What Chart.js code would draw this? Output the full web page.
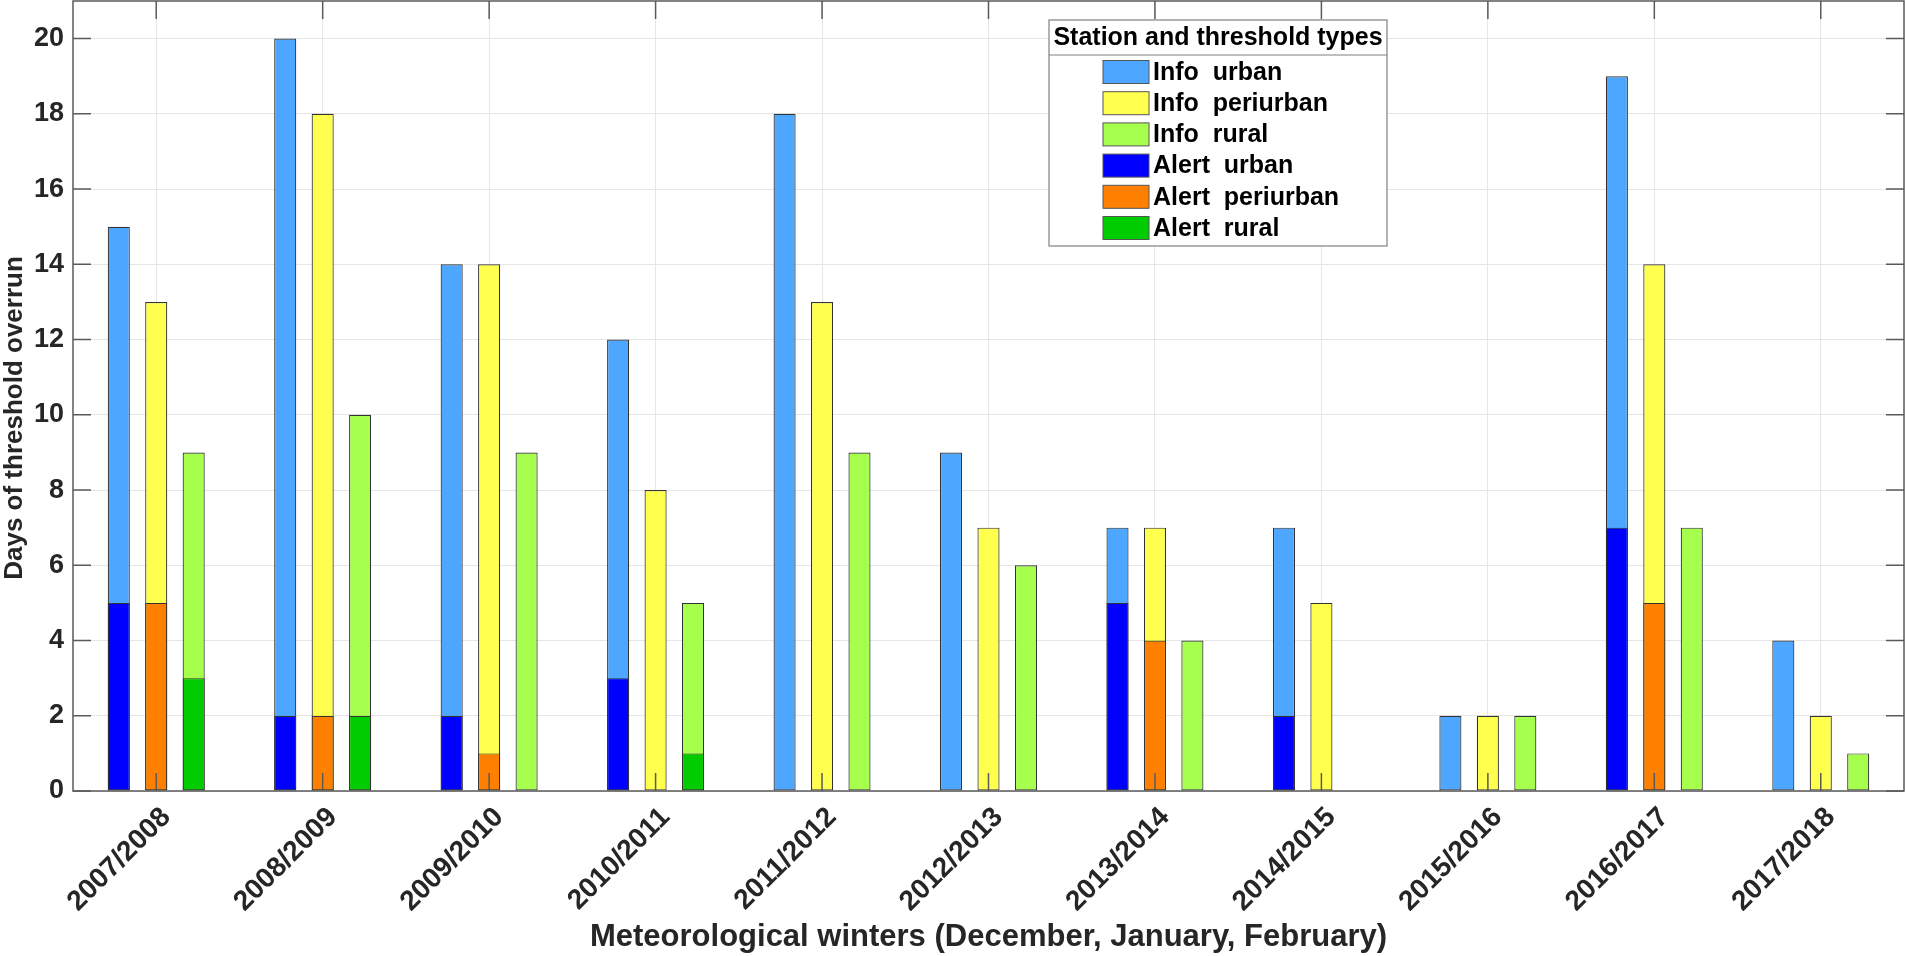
<!DOCTYPE html>
<html lang="en">
<head>
    <meta charset="UTF-8">
    <title>Days of threshold overrun</title>
    <script src="https://cdn.jsdelivr.net/npm/chart.js"></script>
    <style>
        html, body { margin: 0; padding: 0; background: #fff; }
    </style>
</head>
<body>
    <canvas id="grafico" width="1905" height="956"></canvas>

<script>
    // winters (Dec, Jan, Feb)
    var invernos = ["2007/2008", "2008/2009", "2009/2010", "2010/2011", "2011/2012", "2012/2013",
        "2013/2014", "2014/2015", "2015/2016", "2016/2017", "2017/2018"];

    // days with info threshold overrun (total bar height)
    var infoUrbano = [15, 20, 14, 12, 18, 9, 7, 7, 2, 19, 4];
    var infoPeriurbano = [13, 18, 14, 8, 13, 7, 7, 5, 2, 14, 2];
    var infoRural = [9, 10, 9, 5, 9, 6, 4, 0, 2, 7, 1];

    // days with alert threshold overrun (drawn over the info bar)
    var alertaUrbano = [5, 2, 2, 3, 0, 0, 5, 2, 0, 7, 0];
    var alertaPeriurbano = [5, 2, 1, 0, 0, 0, 4, 0, 0, 5, 0];
    var alertaRural = [3, 2, 0, 1, 0, 0, 0, 0, 0, 0, 0];

    var ticksY = [0, 2, 4, 6, 8, 10, 12, 14, 16, 18, 20];

    var tituloY = 'Days of threshold overrun';

    Chart.defaults.font.family = "'Liberation Sans', Arial, sans-serif";
    Chart.defaults.color = '#262626';

    function barra(rotulo, valores, cor, grupo, ordem) {
        return {
            label: rotulo,
            data: valores,
            backgroundColor: cor,
            borderColor: '#333333',
            borderWidth: 1.2,
            borderSkipped: false,
            stack: grupo,
            order: ordem,
            categoryPercentage: 0.675,
            barPercentage: 0.59
        };
    }

    // legend box + axes frame with inner ticks (matlab style)
    const moldura = {
        id: 'moldura',
        afterDatasetsDraw(chart) {
            const ctx = chart.ctx;
            const a = chart.chartArea;
            const x = chart.scales.x;
            const y = chart.scales.y;
            ctx.save();

            ctx.strokeStyle = '#5a5a5a';
            ctx.lineWidth = 1.5;
            ctx.strokeRect(a.left, a.top, a.right - a.left, a.bottom - a.top);
            ctx.beginPath();
            for (var i = 0; i < x.ticks.length; i++) {
                var px = x.getPixelForTick(i);
                ctx.moveTo(px, a.bottom); ctx.lineTo(px, a.bottom - 18);
                ctx.moveTo(px, a.top); ctx.lineTo(px, a.top + 18);
            }
            for (var j = 0; j < y.ticks.length; j++) {
                var py = y.getPixelForTick(j);
                ctx.moveTo(a.left, py); ctx.lineTo(a.left + 18, py);
                ctx.moveTo(a.right, py); ctx.lineTo(a.right - 18, py);
            }
            ctx.stroke();

            // y label, sits a bit below the axis centre like in matlab
            ctx.save();
            ctx.translate(15, (a.top + a.bottom) / 2 + 22);
            ctx.rotate(-Math.PI / 2);
            ctx.fillStyle = '#262626';
            ctx.font = "bold 26px 'Liberation Sans', Arial, sans-serif";
            ctx.textAlign = 'center';
            ctx.textBaseline = 'middle';
            ctx.fillText(tituloY, 0, 0);
            ctx.restore();

            // legend
            var lx = 1049, ly = 20, lw = 338, lh = 226;
            ctx.fillStyle = '#ffffff';
            ctx.fillRect(lx, ly, lw, lh);
            ctx.strokeStyle = '#808080';
            ctx.lineWidth = 1.2;
            ctx.strokeRect(lx, ly, lw, lh);
            ctx.beginPath();
            ctx.moveTo(lx, ly + 35); ctx.lineTo(lx + lw, ly + 35);
            ctx.stroke();

            ctx.fillStyle = '#000000';
            ctx.font = "bold 25px 'Liberation Sans', Arial, sans-serif";
            ctx.textAlign = 'center';
            ctx.textBaseline = 'middle';
            ctx.fillText('Station and threshold types', lx + lw / 2, ly + 18);

            ctx.textAlign = 'left';
            chart.data.datasets.forEach(function (ds, k) {
                var cy = ly + 52 + k * 31.2;
                ctx.fillStyle = ds.backgroundColor;
                ctx.fillRect(lx + 54, cy - 11.5, 46, 23);
                ctx.strokeStyle = '#555555';
                ctx.lineWidth = 1;
                ctx.strokeRect(lx + 54, cy - 11.5, 46, 23);
                ctx.fillStyle = '#000000';
                ctx.fillText(ds.label, lx + 104, cy + 1);
            });

            ctx.restore();
        }
    };

    new Chart(document.getElementById('grafico'), {
        type: 'bar',
        data: {
            labels: invernos,
            datasets: [
                barra('Info  urban', infoUrbano, '#4da6ff', 'urbano', 1),
                barra('Info  periurban', infoPeriurbano, '#ffff4d', 'periurbano', 1),
                barra('Info  rural', infoRural, '#a6ff4d', 'rural', 1),
                barra('Alert  urban', alertaUrbano, '#0000ff', 'urbano', 0),
                barra('Alert  periurban', alertaPeriurbano, '#ff8000', 'periurbano', 0),
                barra('Alert  rural', alertaRural, '#00cc00', 'rural', 0)
            ]
        },
        options: {
            responsive: false,
            animation: false,
            layout: { padding: { top: 1, right: 1, left: 0, bottom: 0 } },
            plugins: {
                legend: { display: false },
                tooltip: { enabled: false }
            },
            scales: {
                x: {
                    stacked: true,
                    grid: { offset: false, color: '#e6e6e6', drawTicks: false },
                    border: { display: false },
                    ticks: {
                        autoSkip: false,
                        minRotation: 45,
                        maxRotation: 45,
                        padding: 10,
                        labelOffset: 10,
                        color: '#262626',
                        font: { size: 28, weight: 'bold' }
                    },
                    title: {
                        display: true,
                        text: 'Meteorological winters (December, January, February)',
                        color: '#262626',
                        padding: 0,
                        font: { size: 31, weight: 'bold' }
                    },
                    afterFit: function (escala) {
                        escala.height = 165;
                        escala.paddingLeft = 0;
                        escala.paddingRight = 0;
                    }
                },
                y: {
                    stacked: false,
                    min: 0,
                    max: 21,
                    grid: { color: '#e6e6e6', drawTicks: false },
                    border: { display: false },
                    ticks: {
                        padding: 9,
                        color: '#262626',
                        font: { size: 27, weight: 'bold' }
                    },
                    afterBuildTicks: function (escala) {
                        escala.ticks = ticksY.map(function (v) { return { value: v }; });
                    },
                    afterFit: function (escala) {
                        escala.width = 73;
                        escala.paddingTop = 0;
                        escala.paddingBottom = 0;
                    }
                }
            }
        },
        plugins: [moldura]
    });
</script>
</body>
</html>
